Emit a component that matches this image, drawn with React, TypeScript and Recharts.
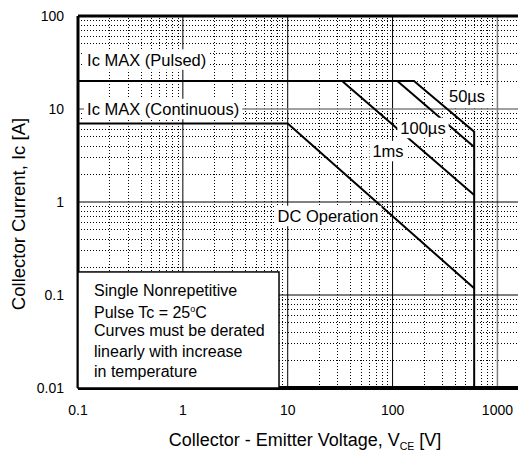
import React from 'react';
import { ComposedChart, Line, XAxis, YAxis, ReferenceLine, ReferenceArea, ReferenceDot } from 'recharts';

const FONT = '"Liberation Sans", Arial, Helvetica, sans-serif';

// Axis ticks
const xTicks = [0.1, 1, 10, 100, 1000];
const yTicks = [0.01, 0.1, 1, 10, 100];
const xDecades = [0.1, 1, 10, 100, 1000];
const yDecades = [0.01, 0.1, 1, 10];
const minorSteps = [2, 3, 4, 5, 6, 7, 8, 9];

// SOA boundaries (V_CE [V], Ic [A])
const pulsedLimit = [
  { v: 0.1, i: 20 },
  { v: 160, i: 20 },
  { v: 600, i: 5.7 },
  { v: 600, i: 0.01 },
];
const limit100us = [
  { v: 111, i: 20 },
  { v: 600, i: 3.9 },
];
const limit1ms = [
  { v: 33, i: 20 },
  { v: 600, i: 1.19 },
];
const dcLimit = [
  { v: 0.1, i: 7 },
  { v: 10, i: 7 },
  { v: 600, i: 0.118 },
];

const noteLines = ['Single Nonrepetitive', 'Pulse Tc = 25', 'Curves must be derated', 'linearly with increase', 'in temperature'];

const xMinor: number[] = [];
xDecades.forEach((d) => minorSteps.forEach((m) => { const v = +(d * m).toPrecision(3); if (v <= 2000) xMinor.push(v); }));
const yMinor: number[] = [];
yDecades.forEach((d) => minorSteps.forEach((m) => yMinor.push(+(d * m).toPrecision(3))));

let ctx: CanvasRenderingContext2D | null = null;
function measure(text: string, size: number) {
  if (!ctx) ctx = document.createElement('canvas').getContext('2d');
  if (!ctx) return text.length * size * 0.55;
  ctx.font = `${size}px "Liberation Sans"`;
  return ctx.measureText(text).width;
}

const boxLabel = (text: string, anchor: 'start' | 'middle', size: number) => (props: any) => {
  const { cx, cy } = props;
  const w = measure(text, size);
  const left = anchor === 'start' ? cx : cx - w / 2;
  return (
    <g>
      <rect x={left - 3} y={cy - size * 0.62} width={w + 6} height={size * 1.24} fill="#fff" />
      <text x={left} y={cy + size * 0.36} fontSize={size} fontFamily={FONT} fill="#000">
        {text}
      </text>
    </g>
  );
};

const NoteBox = (props: any) => {
  const { x, y, width, height } = props;
  const tx = x + 16;
  const y0 = y + 24;
  const size = 16;
  const lh = 20.2;
  return (
    <g>
      <rect x={x} y={y} width={width} height={height} fill="#fff" stroke="#000" strokeWidth={1.5} />
      <text fontSize={size} fontFamily={FONT} fill="#000">
        <tspan x={tx} y={y0}>{noteLines[0]}</tspan>
        <tspan x={tx} y={y0 + lh + 1.5}>{noteLines[1]}</tspan>
        <tspan dy={-6} fontSize={9}>o</tspan>
        <tspan dy={6}>C</tspan>
        <tspan x={tx} y={y0 + lh * 2}>{noteLines[2]}</tspan>
        <tspan x={tx} y={y0 + lh * 3}>{noteLines[3]}</tspan>
        <tspan x={tx} y={y0 + lh * 4}>{noteLines[4]}</tspan>
      </text>
    </g>
  );
};

const XTitle = () => (
  <text x={297} y={438} textAnchor="middle" fontSize={18} fontFamily={FONT} fill="#000">
    Collector - Emitter Voltage, V
    <tspan dy={4} fontSize={10.5}>CE</tspan>
    <tspan dy={-4}> [V]</tspan>
  </text>
);

const YTitle = () => (
  <text x={0} y={0} transform="translate(17 206) rotate(-90)" textAnchor="middle" fontSize={18.5} fontFamily={FONT} fill="#000">
    Collector Current, Ic [A]
  </text>
);

const lineProps = {
  type: 'linear' as const,
  dataKey: 'i',
  dot: false,
  activeDot: false,
  stroke: '#000',
  strokeWidth: 2,
  isAnimationActive: false,
};

export default function App() {
  return (
    <div style={{ width: 518, height: 450, overflow: 'hidden' }}>
      <ComposedChart width={530} height={450} margin={{ top: 8, right: 9, bottom: 0, left: 0 }}>
        <XAxis
          dataKey="v"
          type="number"
          scale="log"
          domain={[0.1, 2000]}
          ticks={xTicks}
          allowDataOverflow
          height={70}
          tickLine={false}
          tickSize={6}
          tickMargin={11}
          axisLine={{ stroke: '#000', strokeWidth: 4 }}
          tick={{ fill: '#000', fontSize: 14, fontFamily: FONT }}
          label={{ content: () => <XTitle /> }}
        />
        <YAxis
          type="number"
          scale="log"
          domain={[0.01, 100]}
          ticks={yTicks}
          allowDataOverflow
          width={70}
          tickLine={false}
          tickSize={6}
          tickMargin={8}
          axisLine={{ stroke: '#000', strokeWidth: 3 }}
          tick={{ fill: '#000', fontSize: 14, fontFamily: FONT }}
          label={{ content: () => <YTitle /> }}
        />
        {xMinor.map((v) => (
          <ReferenceLine key={'xm' + v} x={v} stroke="#000" strokeWidth={1} strokeDasharray="1 2" shapeRendering="crispEdges" />
        ))}
        {yMinor.map((v) => (
          <ReferenceLine key={'ym' + v} y={v} stroke="#000" strokeWidth={1} strokeDasharray="1 2" shapeRendering="crispEdges" />
        ))}
        <ReferenceLine x={1} stroke="#000" strokeWidth={1} />
        <ReferenceLine x={10} stroke="#000" strokeWidth={1} />
        <ReferenceLine x={100} stroke="#000" strokeWidth={1} />
        <ReferenceLine x={1000} stroke="#808080" strokeWidth={1.5} />
        <ReferenceLine y={0.1} stroke="#000" strokeWidth={1} />
        <ReferenceLine y={1} stroke="#000" strokeWidth={1} />
        <ReferenceLine y={10} stroke="#808080" strokeWidth={1.5} />
        <ReferenceLine y={100} stroke="#000" strokeWidth={3} />
        <Line {...lineProps} data={pulsedLimit} />
        <Line {...lineProps} data={limit100us} />
        <Line {...lineProps} data={limit1ms} />
        <Line {...lineProps} data={dcLimit} />
        <ReferenceArea
          x1={0.1}
          x2={8.26}
          y1={0.01}
          y2={0.177}
          zIndex={650}
          shape={(p: any) => <NoteBox {...p} />}
        />
        <ReferenceDot x={0.122} y={34} shape={boxLabel('Ic MAX (Pulsed)', 'start', 16.5)} />
        <ReferenceDot x={0.122} y={10} shape={boxLabel('Ic MAX (Continuous)', 'start', 16.5)} />
        <ReferenceDot x={513} y={13.8} shape={boxLabel('50µs', 'middle', 16.5)} />
        <ReferenceDot x={195} y={6.25} shape={boxLabel('100µs', 'middle', 16.5)} />
        <ReferenceDot x={90.4} y={3.53} shape={boxLabel('1ms', 'middle', 16.5)} />
        <ReferenceDot x={24.2} y={0.707} shape={boxLabel('DC Operation', 'middle', 16.5)} />
      </ComposedChart>
    </div>
  );
}
